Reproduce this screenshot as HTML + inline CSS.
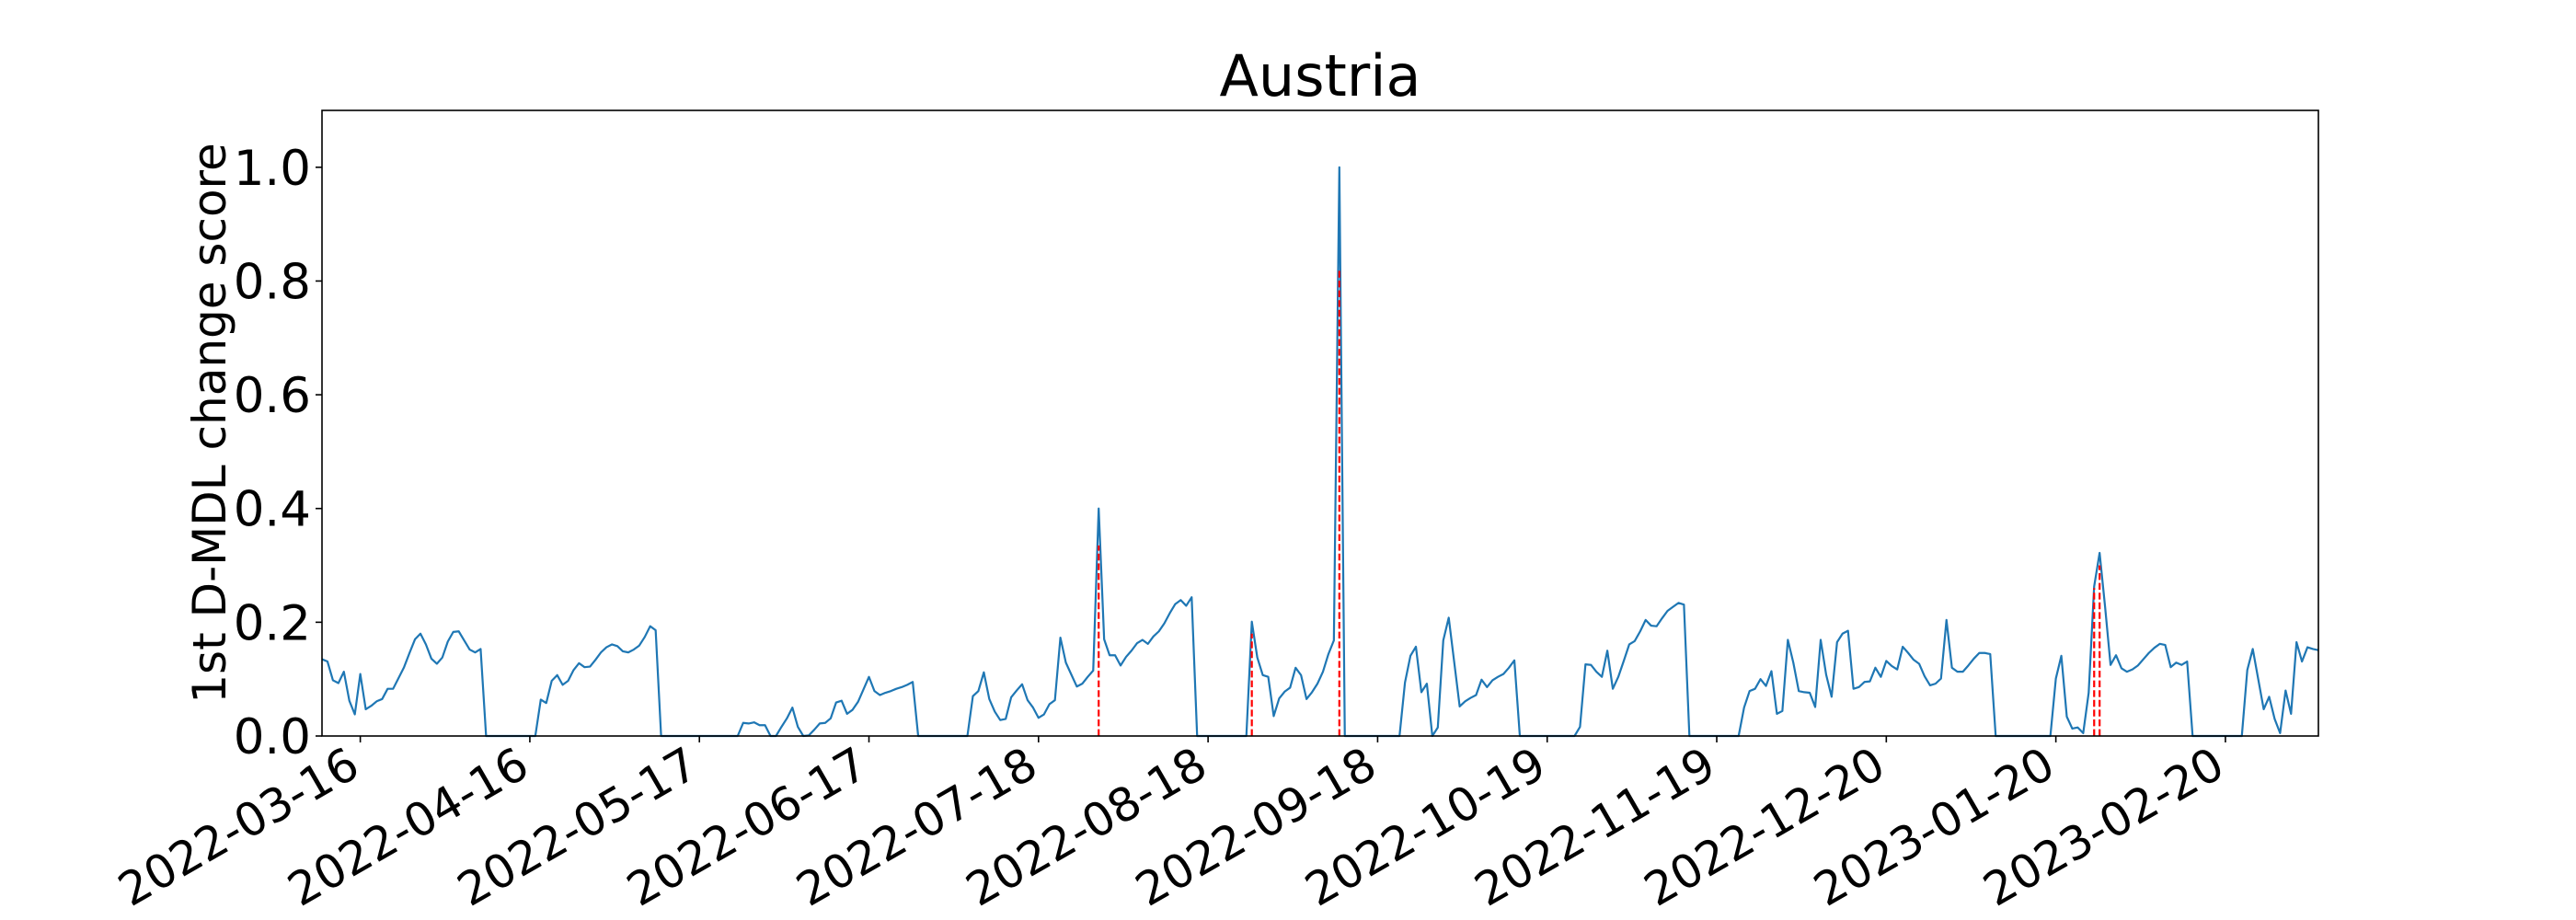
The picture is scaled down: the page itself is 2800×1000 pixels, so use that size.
<!DOCTYPE html>
<html><head><meta charset="utf-8"><style>
html,body{margin:0;padding:0;background:#fff;}
svg{display:block;}
text{font-family:"DejaVu Sans","Liberation Sans",sans-serif;fill:#000;}
</style></head>
<body>
<svg id="chart" width="2800" height="1000" viewBox="0 0 2800 1000" xmlns="http://www.w3.org/2000/svg">
<rect x="0" y="0" width="2800" height="1000" fill="#fff"/>
<text x="1435" y="104" font-size="62" text-anchor="middle">Austria</text>
<text transform="translate(245,460) rotate(-90)" font-size="50" text-anchor="middle">1st D-MDL change score</text>
<g id="plot"></g>
</svg>
<script>
const startDate = "2022-03-09";
const xTickLabels = ["2022-03-16","2022-04-16","2022-05-17","2022-06-17","2022-07-18","2022-08-18","2022-09-18","2022-10-19","2022-11-19","2022-12-20","2023-01-20","2023-02-20"];
const yTickValues = [0.0,0.2,0.4,0.6,0.8,1.0];
const yTickLabels = ["0.0","0.2","0.4","0.6","0.8","1.0"];
const scores = [
0.135,0.131,0.098,0.093,0.113,0.062,0.038,0.109,0.047,0.053,0.061,0.065,0.083,0.083,0.102,0.121,0.146,0.170,0.180,0.161,0.136,0.127,0.138,0.166,0.183,0.184,0.168,0.152,0.147,0.153,
0,0,0,0,0,0,0,0,0,0,
0.064,0.058,0.097,0.107,0.090,0.097,0.116,0.128,0.121,0.122,0.134,0.147,0.156,0.161,0.158,0.149,0.147,0.152,0.159,0.174,0.193,0.186,
0,0,0,0,0,0,0,0,0,0,0,0,0,0,0,
0.023,0.022,0.024,0.019,0.019,
0,0,
0.016,0.031,0.050,0.016,0,0.001,0.011,0.022,0.023,0.031,0.059,0.062,0.039,0.046,0.060,0.082,0.104,0.079,0.072,0.076,0.079,0.083,0.086,0.090,0.095,
0,0,0,0,0,0,0,0,0,0,
0.070,0.079,0.112,0.065,0.043,0.028,0.030,0.068,0.080,0.091,0.063,0.050,0.032,0.038,0.056,0.063,0.173,0.129,0.108,0.087,0.092,0.104,0.115,0.400,0.170,0.142,0.142,0.124,0.139,0.150,0.163,0.169,0.162,0.175,0.184,0.198,0.216,0.232,0.239,0.229,0.244,
0,0,0,0,0,0,0,0,0,0,
0.201,0.138,0.107,0.104,0.035,0.066,0.078,0.085,0.120,0.107,0.065,0.077,0.092,0.113,0.144,0.168,1.0,
0,0,0,0,0,0,0,0,0,0,0,
0.094,0.141,0.157,0.077,0.092,0.0,0.015,0.168,0.208,0.130,0.052,0.061,0.067,0.072,0.099,0.086,0.098,0.104,0.109,0.120,0.133,
0,0,0,0,0,0,0,0,0,0,0,
0.016,0.126,0.125,0.113,0.104,0.150,0.083,0.104,0.132,0.161,0.167,0.184,0.204,0.194,0.193,0.207,0.220,0.227,0.234,0.231,
0,0,0,0,0,0,0,0,0,0,
0.050,0.079,0.083,0.100,0.088,0.114,0.039,0.044,0.169,0.129,0.079,0.077,0.076,0.051,0.169,0.108,0.069,0.165,0.180,0.185,0.083,0.086,0.095,0.096,0.120,0.104,0.132,0.123,0.117,0.157,0.146,0.134,0.127,0.105,0.089,0.092,0.101,0.204,0.120,0.113,0.113,0.124,0.136,0.146,0.146,0.144,
0,0,0,0,0,0,0,0,0,0,0,
0.101,0.141,0.034,0.013,0.015,0.005,0.076,0.263,0.322,0.227,0.125,0.142,0.119,0.113,0.117,0.124,0.135,0.146,0.155,0.162,0.160,0.121,0.129,0.125,0.131,
0,0,0,0,0,0,0,0,0,0,
0.116,0.153,0.100,0.047,0.069,0.030,0.005,0.080,0.039,0.165,0.131,0.156,0.153,0.151
];
const changeDays = [142,170,186,324,325];
const changeHeights = [0.335,0.18,0.82,0.26,0.30];

const L=350,R=2520,T=120,B=800,YMAX=1.1;
const DAY=86400000;
const t0=Date.parse(startDate+"T00:00:00Z");
const nDays=scores.length-1;
function xDay(d){return L+(R-L)*d/nDays;}
function xDate(s){return xDay((Date.parse(s+"T00:00:00Z")-t0)/DAY);}
function yVal(v){return B-(B-T)*v/YMAX;}
const NS="http://www.w3.org/2000/svg";
const g=document.getElementById('plot');
function mk(tag,attrs){const e=document.createElementNS(NS,tag);for(const k in attrs)e.setAttribute(k,attrs[k]);g.appendChild(e);return e;}

let d="";
scores.forEach((v,i)=>{d+=(i?"L":"M")+xDay(i).toFixed(2)+","+yVal(v).toFixed(2);});
const line=mk('path',{d:d,fill:"none",stroke:"#1f77b4","stroke-width":2.2,"stroke-linejoin":"round"});



changeDays.forEach((cd,i)=>{
  const ln=mk('line',{x1:xDay(cd),x2:xDay(cd),y1:yVal(0),y2:yVal(changeHeights[i]),stroke:"#ff0000","stroke-width":2.2,"stroke-dasharray":"7.4,3.2"});
  
  
});

const fr=mk('rect',{x:L,y:T,width:R-L,height:B-T,fill:"none",stroke:"#000","stroke-width":1.6});



yTickValues.forEach((v,i)=>{
  const y=yVal(v);
  const tk=mk('line',{x1:L-7,x2:L,y1:y,y2:y,stroke:"#000","stroke-width":1.6});
  
  
  const tx=mk('text',{x:L-12,y:y+19,"font-size":53,"text-anchor":"end"});
  tx.textContent=yTickLabels[i];
  
  
});

xTickLabels.forEach(s=>{
  const x=xDate(s);
  const tk=mk('line',{x1:x,x2:x,y1:B,y2:B+7,stroke:"#000","stroke-width":1.6});
  
  
  const tx=mk('text',{transform:"translate("+(x-17)+","+(B+8)+") rotate(-30)","font-size":50,"text-anchor":"end",dy:"0.76em"});
  tx.textContent=s;
  
  
});
</script>
</body></html>
